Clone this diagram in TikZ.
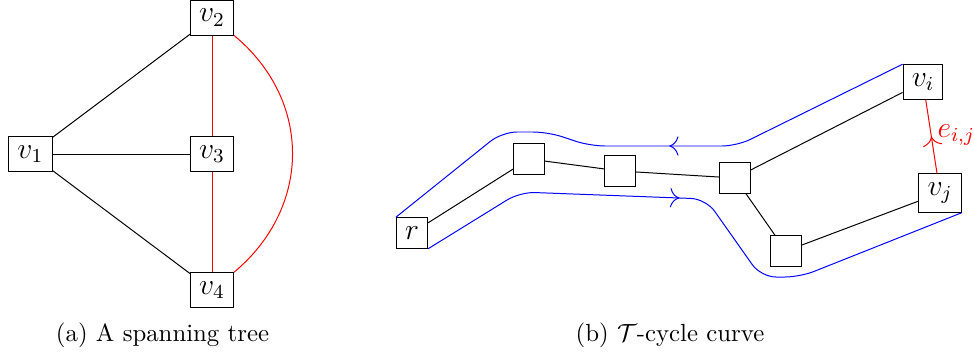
\documentclass[tikz,border=0pt]{standalone}
\usetikzlibrary{decorations.markings,arrows.meta}
\begin{document}
\begin{tikzpicture}[x=0.4032pt,y=-0.4032pt,
  vbox/.style={draw, rectangle, font=\large, inner sep=3.5pt, minimum size=12.3pt},
  ebox/.style={draw, rectangle, minimum size=12.3pt, inner sep=0pt},
  curve/.style={blue, rounded corners=6pt},
  midarrow/.style={postaction={decorate}, decoration={markings, mark=at position #1 with {\arrow{To[scale=1.5]}}}},
  capt/.style={anchor=base}
]
\useasboundingbox (0,0) rectangle (974,360);

% (a)
\node[vbox] (v1) at (30.4,154) {$v_1$};
\node[vbox] (v2) at (212,17.7) {$v_2$};
\node[vbox] (v3) at (212,154) {$v_3$};
\node[vbox] (v4) at (212,290) {$v_4$};
\draw (v1) -- (v2);
\draw (v1) -- (v3);
\draw (v1) -- (v4);
\draw[red] (v2) -- (v3);
\draw[red] (v3) -- (v4);
\draw[red] (v2.south east) .. controls (312,100) and (312,207) .. (v4.north east);

% (b)
\node[vbox] (r) at (412,233) {$r$};
\node[ebox] (n1) at (529,159) {};
\node[ebox] (n2) at (620,171) {};
\node[ebox] (n3) at (735,178) {};
\node[ebox] (n4) at (786,251) {};
\node[vbox] (vi) at (923,82) {$v_i$};
\node[vbox] (vj) at (940,193) {$v_j$};
\draw (r) -- (n1);
\draw (n1) -- (n2);
\draw (n2) -- (n3);
\draw (n3) -- (vi);
\draw (n3) -- (n4);
\draw (n4) -- (vj);
\draw[red, midarrow=0.5] (vj) -- (vi);
\node[red, anchor=base west, inner sep=0pt, font=\large] (eij) at (937,137) {$e_{i,j}$};

\draw[curve, midarrow=0.453] (vi.north west) -- (737,146) -- (590,146) -- (548,132) -- (502,132) -- (r.north west);
\draw[curve, midarrow=0.447] (r.south east) -- (520,192) -- (706,199) -- (761,277) -- (800,277) -- (vj.south east);

\node[capt] (ca) at (162.5,341) {(a) A spanning tree};
\node[capt] (cb) at (670,341) {(b) $\mathcal{T}$-cycle curve};
\end{tikzpicture}
\end{document}
